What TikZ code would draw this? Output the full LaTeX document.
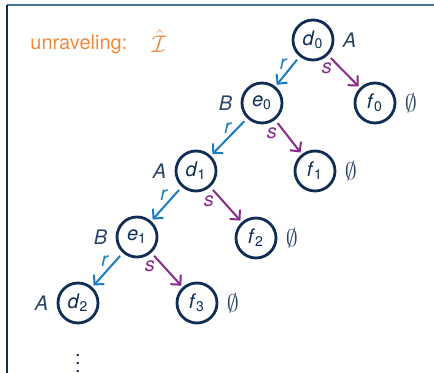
\documentclass[tikz,border=0pt]{standalone}
\usepackage{amsmath,amssymb}
\usepackage{fontspec}
\setmainfont{TeX Gyre Heros}
\usepackage{tikz}
\usetikzlibrary{arrows.meta,positioning}
\definecolor{ink}{HTML}{0F2D55}
\definecolor{frameblue}{HTML}{4A6E9A}
\definecolor{rblue}{HTML}{1C7CC2}
\definecolor{spurple}{HTML}{8A2A8C}
\definecolor{unravorange}{HTML}{F28A3C}
\definecolor{labgray}{HTML}{2A4468}
\tikzset{
  elem/.style={circle,draw=ink,line width=1.4pt,minimum size=20pt,inner sep=0pt,
               text=ink,font=\normalsize},
  rarr/.style={-{Straight Barb[length=3.5pt,width=7pt]},line width=1pt,color=rblue,
               shorten <=2pt,shorten >=1pt},
  sarr/.style={-{Straight Barb[length=3.5pt,width=7pt]},line width=1pt,color=spurple,
               shorten <=2pt,shorten >=1pt},
  conc/.style={font=\normalsize\itshape,text=labgray,inner sep=2pt},
  elab/.style={font=\normalsize\itshape,inner sep=1pt}
}
\newcommand{\elname}[2]{\textit{#1}\textsubscript{\upshape #2}}
\begin{document}
\begin{tikzpicture}[x=0.5pt,y=-0.5pt]
  \useasboundingbox (0,0) rectangle (434,373);
  % frame
  \draw[frameblue,line width=0.9pt] (7,5) -- (434,5);
  \draw[ink,line width=0.9pt] (7,5) -- (7,373);
  % title
  \node[anchor=west,text=unravorange,font=\normalsize,inner sep=0pt] (title) at (30,44) {unraveling:};
  \node[text=unravorange,font=\large,inner sep=0pt] (ihat) at (159,41) {$\hat{\mathcal{I}}$};
  % the tree
  \node[elem] (d0) at (313,40)  {\elname{d}{0}};
  \node[elem] (e0) at (262,103) {\elname{e}{0}};
  \node[elem] (f0) at (375,103) {\elname{f}{0}};
  \node[elem] (d1) at (196,171) {\elname{d}{1}};
  \node[elem] (f1) at (315,171) {\elname{f}{1}};
  \node[elem] (e1) at (137,237) {\elname{e}{1}};
  \node[elem] (f2) at (256,238) {\elname{f}{2}};
  \node[elem] (d2) at (78,303)  {\elname{d}{2}};
  \node[elem] (f3) at (197,303) {\elname{f}{3}};
  % concept labels
  \node[conc,right=2pt of d0] (cd0) {A};
  \node[conc,left=2pt of e0]  (ce0) {B};
  \node[conc,left=2pt of d1]  (cd1) {A};
  \node[conc,left=2pt of e1]  (ce1) {B};
  \node[conc,left=2pt of d2]  (cd2) {A};
  \foreach \f in {f0,f1,f2,f3}
    \node[text=labgray,right=3pt of \f,inner sep=1pt,font=\large] (c\f) {$\emptyset$};
  % role edges
  \foreach \a/\b in {d0/e0,e0/d1,d1/e1,e1/d2}
    \draw[rarr] (\a) -- node[elab,pos=0.25,left=2pt,text=rblue] {r} (\b);
  \foreach \a/\b in {d0/f0,e0/f1,d1/f2,e1/f3}
    \draw[sarr] (\a) -- node[elab,pos=0.4,left=3pt,text=spurple] {s} (\b);
  \node[text=ink,inner sep=0pt] (dots) at (78,357) {$\vdots$};
\end{tikzpicture}
\end{document}
